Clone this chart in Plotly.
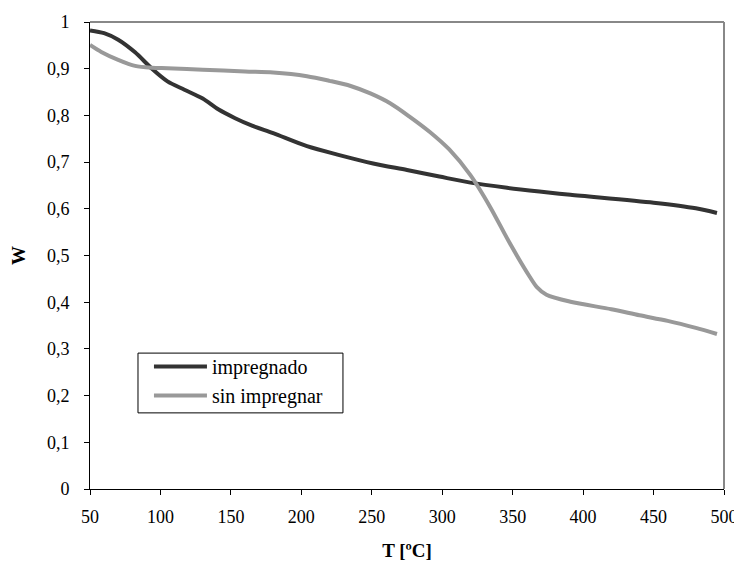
import plotly.graph_objects as go

t_imp = [50, 60, 70, 82, 94, 105, 117, 130, 141, 153, 165, 180, 204, 227, 251, 275,
         298, 320, 346, 369, 391, 450, 480, 495]
w_imp = [0.982, 0.976, 0.962, 0.935, 0.900, 0.873, 0.855, 0.836, 0.813, 0.794, 0.778,
         0.762, 0.734, 0.715, 0.697, 0.683, 0.669, 0.656, 0.645, 0.637, 0.630, 0.613,
         0.601, 0.591]

t_sin = [50, 58, 70, 82, 94, 105, 130, 160, 180, 204, 220, 235, 249, 263, 277, 291,
         305, 320, 334, 348, 362, 367, 374, 391, 420, 440, 460, 480, 495]
w_sin = [0.951, 0.936, 0.919, 0.906, 0.902, 0.901, 0.898, 0.894, 0.892, 0.884, 0.874,
         0.863, 0.847, 0.826, 0.797, 0.765, 0.727, 0.672, 0.604, 0.526, 0.455, 0.433,
         0.416, 0.401, 0.385, 0.372, 0.360, 0.345, 0.332]

x_ticks = [50, 100, 150, 200, 250, 300, 350, 400, 450, 500]
y_ticks = [0, 0.1, 0.2, 0.3, 0.4, 0.5, 0.6, 0.7, 0.8, 0.9, 1]

font = "Liberation Serif"

fig = go.Figure()
fig.add_trace(go.Scatter(x=t_imp, y=w_imp, mode="lines", name="impregnado",
                         line=dict(color="#333333", width=4, shape="spline", smoothing=0.8)))
fig.add_trace(go.Scatter(x=t_sin, y=w_sin, mode="lines", name="sin impregnar",
                         line=dict(color="#999999", width=4, shape="spline", smoothing=0.8)))

fig.update_layout(
    width=742, height=561,
    margin=dict(l=82, r=26, t=14, b=80),
    paper_bgcolor="white", plot_bgcolor="white",
    separators=", ",
    font=dict(family=font, size=18, color="black"),
    showlegend=True,
    legend=dict(x=0.093, y=0.304, xanchor="left", yanchor="top",
                borderwidth=0, bgcolor="rgba(0,0,0,0)",
                itemwidth=53,
                font=dict(family=font, size=20, color="black"), tracegroupgap=0),
    xaxis=dict(range=[50, 500], tickvals=x_ticks, showgrid=False, zeroline=False,
               showline=True, linecolor="black", linewidth=1, automargin=False,
               ticks="outside", ticklen=5, tickcolor="black", ticklabelstandoff=6,
               tickfont=dict(family=font, size=18, color="black"),
               title=dict(text="<b>T [ºC]</b>", font=dict(family=font, size=19), standoff=18)),
    yaxis=dict(range=[0, 1], tickvals=y_ticks, showgrid=False, zeroline=False,
               showline=True, linecolor="black", linewidth=1, automargin=False,
               ticks="outside", ticklen=5, tickcolor="black", ticklabelstandoff=11,
               tickfont=dict(family=font, size=18, color="black"),
               title=dict(text="<b>W</b>", font=dict(family=font, size=19), standoff=20)),
    shapes=[
        dict(type="line", xref="paper", yref="paper", x0=0, x1=1, y0=1, y1=1,
             line=dict(color="#888888", width=2)),
        dict(type="line", xref="paper", yref="paper", x0=1, x1=1, y0=0, y1=1,
             line=dict(color="#888888", width=2)),
        dict(type="rect", xref="paper", yref="paper", x0=0.0757, x1=0.399,
             y0=0.163, y1=0.291, line=dict(color="black", width=1),
             fillcolor="white", layer="below"),
    ],
)

fig.write_html("out.html")
